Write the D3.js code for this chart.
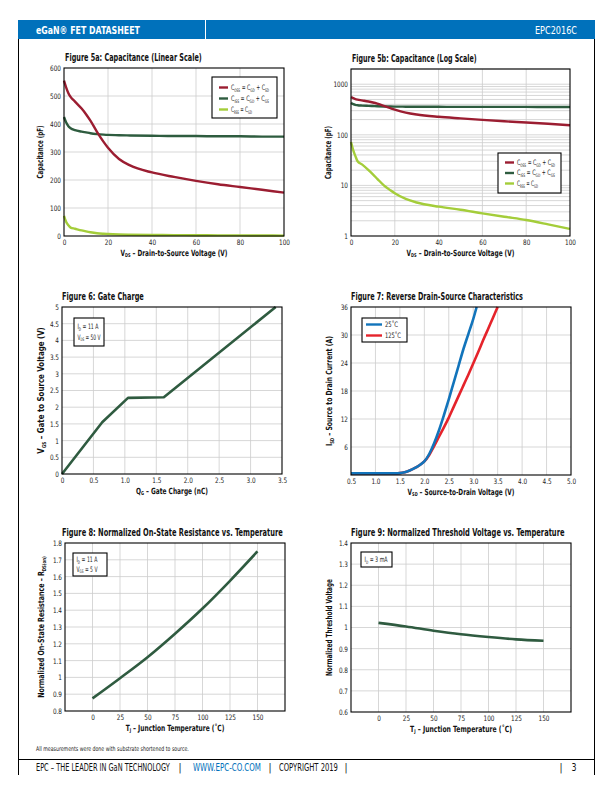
<!DOCTYPE html>
<html><head><meta charset="utf-8">
<script src="https://cdn.jsdelivr.net/npm/d3@7"></script>
<style>
html,body{margin:0;padding:0;background:#fff;}
svg{display:block;}
</style></head>
<body>
<script>
// ---------------- DATA ----------------
// Figure 5: capacitance vs VDS
const capV    = [0, 1, 2, 3, 5, 8, 10, 12, 15, 18, 20, 25, 30, 40, 50, 60, 70, 80, 90, 100];
const capCoss = [555, 530, 510, 497, 480, 455, 435, 412, 372, 336, 315, 275, 252, 227, 211, 197, 185, 175, 165, 155];
const capCiss = [425, 405, 392, 385, 378, 373, 370, 367, 364, 362, 361, 360, 359, 358, 357, 357, 356, 356, 355, 355];
const capCrss = [72, 50, 38, 30, 26, 20, 16.5, 13.5, 10, 8, 7, 5.4, 4.6, 3.8, 3.3, 2.8, 2.4, 2.07, 1.7, 1.38];
const capLegend = ["C_{OSS} = C_{GD} + C_{SD}", "C_{ISS} = C_{GD} + C_{GS}", "C_{RSS} = C_{GD}"];
const linXTicks = [0, 20, 40, 60, 80, 100];
const linYTicks = [0, 100, 200, 300, 400, 500, 600];
const logYTicks = [1, 10, 100, 1000];

// Figure 6: gate charge
const qgQ = [0, 0.64, 1.05, 1.62, 3.4];
const qgV = [0, 1.55, 2.28, 2.30, 5.0];
const qgXTicks = [0, 0.5, 1.0, 1.5, 2.0, 2.5, 3.0, 3.5];
const qgXLabels = ["0", "0.5", "1.0", "1.5", "2.0", "2.5", "3.0", "3.5"];
const qgYTicks = [0, 0.5, 1, 1.5, 2, 2.5, 3, 3.5, 4, 4.5, 5];

// Figure 7: reverse drain-source characteristics
const rdV25  = [0.5, 1.0, 1.4, 1.5, 1.6, 1.7, 1.8, 1.9, 2.0, 2.1, 2.2, 2.3, 2.4, 2.5, 2.6, 2.7, 2.8, 2.9, 3.0, 3.07];
const rdI25  = [0.35, 0.35, 0.35, 0.4, 0.6, 0.95, 1.45, 2.1, 2.9, 4.5, 6.8, 9.6, 12.8, 16.2, 19.8, 23.4, 27.0, 30.2, 33.4, 36];
const rdV125 = [0.5, 1.0, 1.4, 1.5, 1.6, 1.7, 1.8, 1.9, 2.0, 2.1, 2.2, 2.3, 2.4, 2.5, 2.6, 2.7, 2.8, 2.9, 3.0, 3.1, 3.2, 3.3, 3.4, 3.5];
const rdI125 = [0.35, 0.35, 0.35, 0.4, 0.6, 0.95, 1.45, 2.1, 2.9, 4.3, 6.2, 8.2, 10.2, 12.3, 14.6, 16.9, 19.2, 21.5, 23.9, 26.3, 28.8, 31.2, 33.6, 36];
const rdLegend = ["25˚C", "125˚C"];
const rdXTicks = [0.5, 1.0, 1.5, 2.0, 2.5, 3.0, 3.5, 4.0, 4.5, 5.0];
const rdYTicks = [6, 12, 18, 24, 30, 36];

// Figure 8: normalized RDS(on) vs temperature
const tempT = [0, 25, 50, 75, 100, 125, 150];
const rdsOn = [0.875, 0.995, 1.12, 1.26, 1.41, 1.575, 1.75];
const tempXTicks = [0, 25, 50, 75, 100, 125, 150];
const rdsYTicks = [0.8, 0.9, 1, 1.1, 1.2, 1.3, 1.4, 1.5, 1.6, 1.7, 1.8];

// Figure 9: normalized threshold voltage vs temperature
const vthNorm = [1.022, 1.005, 0.985, 0.968, 0.955, 0.944, 0.937];
const vthYTicks = [0.6, 0.7, 0.8, 0.9, 1, 1.1, 1.2, 1.3, 1.4];

// ---------------- DRAWING ----------------
const FONT = "'Liberation Sans Narrow','DejaVu Sans Condensed','Liberation Sans',Roboto,sans-serif";
const W = 612, H = 792;
const svg = d3.select("body").append("svg").attr("width", W).attr("height", H)
  .style("font-family", FONT);

// rich text with subscripts: "V_{DS} – ..."
function rich(textSel, str, size) {
  const parts = str.split(/(_\{[^}]*\})/).filter(s => s.length);
  let sub = false;
  parts.forEach(p => {
    if (p.startsWith("_{")) {
      textSel.append("tspan").attr("font-size", size * 0.62).attr("dy", size * 0.22).text(p.slice(2, -1));
      sub = true;
    } else {
      const t = textSel.append("tspan").attr("font-size", size).text(p);
      if (sub) { t.attr("dy", -size * 0.22); sub = false; }
    }
  });
  return textSel;
}

// place a text, horizontally condensed to a target width (emulates a condensed face)
function label(parent, o) {
  const t = parent.append("text").attr("x", 0).attr("y", 0)
    .attr("text-anchor", o.anchor || "start")
    .attr("font-weight", o.weight || "normal")
    .attr("fill", o.fill || "#111");
  rich(t, o.str, o.size);
  let sx = 1;
  if (o.width) {
    const nat = t.node().getComputedTextLength();
    if (nat > 0) sx = o.width / nat;
  }
  t.attr("transform", `translate(${o.x},${o.y})${o.rotate ? ` rotate(${o.rotate})` : ""} scale(${sx},1)`);
  return t;
}

const BLUE = "#0071bb";
// header
svg.append("rect").attr("x", 18).attr("y", 20).attr("width", 577).attr("height", 19).attr("fill", BLUE);
svg.append("line").attr("x1", 205.5).attr("x2", 205.5).attr("y1", 20).attr("y2", 39).attr("stroke", "#fff").attr("stroke-width", 1);
label(svg, { x: 36, y: 33.5, str: "eGaN® FET DATASHEET", size: 10, weight: "bold", fill: "#fff", width: 104 });
label(svg, { x: 535, y: 33.5, str: "EPC2016C", size: 10, fill: "#fff", width: 42 });

// frame
const frame = svg.append("g").attr("stroke", "#000").attr("stroke-width", 1);
frame.append("line").attr("x1", 18.5).attr("x2", 18.5).attr("y1", 39).attr("y2", 775);
frame.append("line").attr("x1", 594.5).attr("x2", 594.5).attr("y1", 39).attr("y2", 775);
frame.append("line").attr("x1", 18).attr("x2", 595).attr("y1", 759.5).attr("y2", 759.5);

// footer
label(svg, { x: 36, y: 751, str: "All measurements were done with substrate shortened to source.", size: 6.5, fill: "#222", width: 153 });
const footY = 771;
label(svg, { x: 36, y: footY, str: "EPC – THE LEADER IN GaN TECHNOLOGY", size: 10, width: 134 });
label(svg, { x: 180, y: footY, str: "|", size: 10, anchor: "middle" });
label(svg, { x: 193, y: footY, str: "WWW.EPC-CO.COM", size: 10, fill: BLUE, width: 68 });
label(svg, { x: 270, y: footY, str: "|", size: 10, anchor: "middle" });
label(svg, { x: 279, y: footY, str: "COPYRIGHT 2019", size: 10, width: 59 });
label(svg, { x: 346, y: footY, str: "|", size: 10, anchor: "middle" });
label(svg, { x: 561, y: footY, str: "|", size: 10, anchor: "middle" });
label(svg, { x: 574, y: footY, str: "3", size: 10, anchor: "middle", width: 5 });

function chart(c) {
  const g = svg.append("g");
  const x = c.x.range([c.L, c.R]);
  const y = c.y.range([c.B, c.T]);
  // grid
  const grid = g.append("g").attr("stroke", "#cdcdcd").attr("stroke-width", 0.8);
  grid.selectAll("line.v").data(c.xGrid).join("line")
    .attr("x1", d => x(d)).attr("x2", d => x(d)).attr("y1", c.T).attr("y2", c.B);
  grid.selectAll("line.h").data(c.yGrid).join("line")
    .attr("y1", d => y(d)).attr("y2", d => y(d)).attr("x1", c.L).attr("x2", c.R);
  // series
  c.series.forEach(s => {
    const pts = s.xs.map((v, i) => [v, s.ys[i]]);
    g.append("path").attr("d", d3.line().x(d => x(d[0])).y(d => y(d[1])).curve(s.curve || d3.curveMonotoneX)(pts))
      .attr("fill", "none").attr("stroke", s.color).attr("stroke-width", s.width || 2.4)
      .attr("stroke-linejoin", "round");
  });
  // border
  g.append("rect").attr("x", c.L).attr("y", c.T).attr("width", c.R - c.L).attr("height", c.B - c.T)
    .attr("fill", "none").attr("stroke", "#000").attr("stroke-width", 1.1);
  // axes
  const ax = g.append("g").attr("transform", `translate(0,${c.B})`)
    .call(d3.axisBottom(x).tickValues(c.xTicks).tickFormat(c.xFmt).tickSize(0).tickPadding(4));
  ax.select(".domain").remove();
  ax.selectAll("text").attr("font-size", 7.5).attr("font-family", FONT).attr("fill", "#222")
    .attr("transform", "scale(0.85,1)").attr("x", function(d) { return 0; });
  ax.selectAll(".tick text").each(function() { d3.select(this).attr("transform", "scale(0.85,1)"); });
  const ay = g.append("g").attr("transform", `translate(${c.L},0)`)
    .call(d3.axisLeft(y).tickValues(c.yTicks).tickFormat(c.yFmt).tickSize(0).tickPadding(3));
  ay.select(".domain").remove();
  ay.selectAll("text").attr("font-size", 7.5).attr("font-family", FONT).attr("fill", "#222")
    .attr("transform", "scale(0.85,1)").attr("x", -3 / 0.85);
  // title
  label(g, { x: c.L + (c.titleDx || 0), y: c.T - 7, str: c.title, size: 10, weight: "bold", width: c.titleLen });
  // x title
  label(g, { x: (c.L + c.R) / 2, y: c.B + 19.5, str: c.xTitle, size: 8.5, weight: "bold", anchor: "middle", width: c.xTitleLen });
  // y title
  label(g, { x: c.yTitleX, y: (c.T + c.B) / 2, str: c.yTitle, size: 8.5, weight: "bold", anchor: "middle",
    rotate: -90, width: c.yTitleLen });
  // legend
  if (c.legend) {
    const L = c.legend;
    g.append("rect").attr("x", L.x).attr("y", L.y).attr("width", L.w).attr("height", L.h)
      .attr("fill", "#fff").attr("stroke", "#000").attr("stroke-width", 1.1);
    L.items.forEach((it, i) => {
      const yy = L.y + L.first + i * L.step;
      g.append("line").attr("x1", L.x + L.lx0).attr("x2", L.x + L.lx1).attr("y1", yy).attr("y2", yy)
        .attr("stroke", it.color).attr("stroke-width", 2.4);
      label(g, { x: L.x + L.tx, y: yy + 2.4, str: it.label, size: L.size, fill: "#222", width: it.width });
    });
  }
  // annotation
  if (c.note) {
    const N = c.note;
    g.append("rect").attr("x", N.x).attr("y", N.y).attr("width", N.w).attr("height", N.h)
      .attr("fill", "#fff").attr("stroke", "#000").attr("stroke-width", 1.1);
    N.lines.forEach((ln, i) => {
      label(g, { x: N.x + 3.5, y: N.y + N.first + i * N.step, str: ln, size: 7.5, fill: "#222", width: N.widths[i] });
    });
  }
}

const COSS = "#9b1d31", CISS = "#2e5c3f", CRSS = "#a4cd3a", DG = "#2f5b40";
const fmtPlain = d => String(d);

// Figure 5a
chart({
  L: 64, R: 284, T: 68, B: 236,
  x: d3.scaleLinear().domain([0, 100]), y: d3.scaleLinear().domain([0, 600]),
  xGrid: [20, 40, 60, 80], yGrid: [100, 200, 300, 400, 500],
  xTicks: linXTicks, yTicks: linYTicks, xFmt: fmtPlain, yFmt: fmtPlain,
  series: [
    { xs: capV, ys: capCiss, color: CISS },
    { xs: capV, ys: capCrss, color: CRSS },
    { xs: capV, ys: capCoss, color: COSS }
  ],
  title: "Figure 5a: Capacitance (Linear Scale)", titleLen: 137, titleDx: 1,
  xTitle: "V_{DS} – Drain-to-Source Voltage (V)", xTitleLen: 107,
  yTitle: "Capacitance (pF)", yTitleX: 43, yTitleLen: 53,
  legend: { x: 212, y: 77, w: 65, h: 41, first: 10.5, step: 11, lx0: 7, lx1: 16, tx: 19, size: 7.5,
    items: [{ color: COSS, label: capLegend[0], width: 38 }, { color: CISS, label: capLegend[1], width: 38 },
            { color: CRSS, label: capLegend[2], width: 21 }] }
});

// Figure 5b
const logGrid = [];
for (let k = 0; k <= 3; k++) for (let m = 1; m <= 9; m++) { const v = m * Math.pow(10, k); if (v > 1 && v <= 2000) logGrid.push(v); }
chart({
  L: 351, R: 570, T: 69, B: 236,
  x: d3.scaleLinear().domain([0, 100]), y: d3.scaleLog().domain([1, 2000]),
  xGrid: [20, 40, 60, 80], yGrid: logGrid,
  xTicks: linXTicks, yTicks: logYTicks, xFmt: fmtPlain, yFmt: fmtPlain,
  series: [
    { xs: capV, ys: capCiss, color: CISS },
    { xs: capV, ys: capCrss, color: CRSS },
    { xs: capV, ys: capCoss, color: COSS }
  ],
  title: "Figure 5b: Capacitance (Log Scale)", titleLen: 125, titleDx: 1,
  xTitle: "V_{DS} – Drain-to-Source Voltage (V)", xTitleLen: 108,
  yTitle: "Capacitance (pF)", yTitleX: 331, yTitleLen: 53,
  legend: { x: 498, y: 153, w: 63, h: 40, first: 9.5, step: 10.5, lx0: 7, lx1: 16, tx: 19, size: 7.5,
    items: [{ color: COSS, label: capLegend[0], width: 38 }, { color: CISS, label: capLegend[1], width: 38 },
            { color: CRSS, label: capLegend[2], width: 21 }] }
});

// Figure 6
chart({
  L: 62, R: 282, T: 307, B: 474,
  x: d3.scaleLinear().domain([0, 3.5]), y: d3.scaleLinear().domain([0, 5]),
  xGrid: [0.5, 1, 1.5, 2, 2.5, 3], yGrid: [0.5, 1, 1.5, 2, 2.5, 3, 3.5, 4, 4.5],
  xTicks: qgXTicks, yTicks: qgYTicks, xFmt: (d, i) => qgXLabels[i], yFmt: fmtPlain,
  series: [{ xs: qgQ, ys: qgV, color: DG, curve: d3.curveLinear, width: 2.6 }],
  title: "Figure 6: Gate Charge", titleLen: 82,
  xTitle: "Q_{G} – Gate Charge (nC)", xTitleLen: 72,
  yTitle: "V_{GS} – Gate to Source Voltage (V)", yTitleX: 44, yTitleLen: 127,
  note: { x: 74, y: 318, w: 30, h: 28, first: 11, step: 10.5, lines: ["I_{D} = 11 A", "V_{DS} = 50 V"], widths: [21, 23] }
});

// Figure 7
chart({
  L: 351, R: 571, T: 307, B: 475,
  x: d3.scaleLinear().domain([0.5, 5.0]), y: d3.scaleLinear().domain([0, 36]),
  xGrid: [1, 1.5, 2, 2.5, 3, 3.5, 4, 4.5], yGrid: [6, 12, 18, 24, 30],
  xTicks: rdXTicks, yTicks: rdYTicks, xFmt: d3.format(".1f"), yFmt: fmtPlain,
  series: [
    { xs: rdV125, ys: rdI125, color: "#e5232b", width: 2.6 },
    { xs: rdV25, ys: rdI25, color: "#1274bb", width: 2.6 }
  ],
  title: "Figure 7: Reverse Drain-Source Characteristics", titleLen: 172,
  xTitle: "V_{SD} – Source-to-Drain Voltage (V)", xTitleLen: 107,
  yTitle: "I_{SD} – Source to Drain Current (A)", yTitleX: 332, yTitleLen: 110,
  legend: { x: 362, y: 318, w: 45, h: 24, first: 6.5, step: 11, lx0: 4, lx1: 20, tx: 23, size: 7.5,
    items: [{ color: "#1274bb", label: rdLegend[0], width: 13 }, { color: "#e5232b", label: rdLegend[1], width: 16 }] }
});

// Figure 8
chart({
  L: 65, R: 285, T: 543, B: 711,
  x: d3.scaleLinear().domain([-25, 175]), y: d3.scaleLinear().domain([0.8, 1.8]),
  xGrid: tempXTicks, yGrid: [0.9, 1, 1.1, 1.2, 1.3, 1.4, 1.5, 1.6, 1.7],
  xTicks: tempXTicks, yTicks: rdsYTicks, xFmt: fmtPlain, yFmt: fmtPlain,
  series: [{ xs: tempT, ys: rdsOn, color: DG, width: 2.6 }],
  title: "Figure 8: Normalized On-State Resistance vs. Temperature", titleLen: 221, titleDx: -3,
  xTitle: "T_{J} – Junction Temperature (˚C)", xTitleLen: 99,
  yTitle: "Normalized On-State Resistance – R_{DS(on)}", yTitleX: 44, yTitleLen: 142,
  note: { x: 73, y: 553, w: 34, h: 23, first: 9, step: 9.5, lines: ["I_{D} = 11 A", "V_{GS} = 5 V"], widths: [21, 21] }
});

// Figure 9
chart({
  L: 351, R: 571, T: 543, B: 712,
  x: d3.scaleLinear().domain([-25, 175]), y: d3.scaleLinear().domain([0.6, 1.4]),
  xGrid: tempXTicks, yGrid: [0.7, 0.8, 0.9, 1, 1.1, 1.2, 1.3],
  xTicks: tempXTicks, yTicks: vthYTicks, xFmt: fmtPlain, yFmt: fmtPlain,
  series: [{ xs: tempT, ys: vthNorm, color: DG, width: 2.6 }],
  title: "Figure 9: Normalized Threshold Voltage vs. Temperature", titleLen: 214,
  xTitle: "T_{J} – Junction Temperature (˚C)", xTitleLen: 102,
  yTitle: "Normalized Threshold Voltage", yTitleX: 332, yTitleLen: 97,
  note: { x: 361, y: 552, w: 31, h: 15, first: 10.3, step: 10, lines: ["I_{D} = 3 mA"], widths: [23] }
});
</script>
</body></html>
